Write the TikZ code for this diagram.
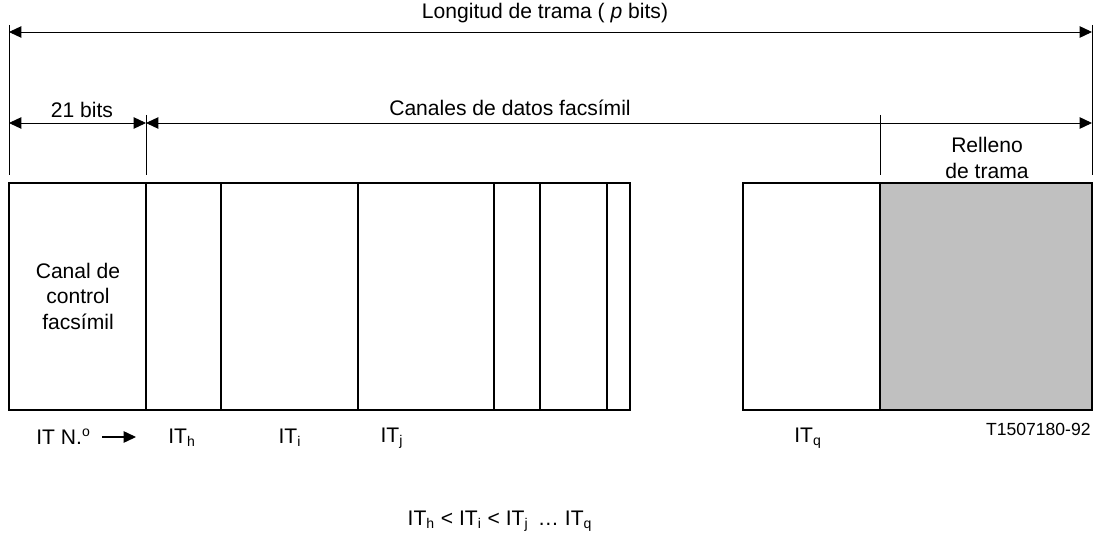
\documentclass[tikz,border=0pt]{standalone}
\usepackage{fontspec}
\setmainfont{Liberation Sans}
\usetikzlibrary{arrows.meta}
\definecolor{relleno}{RGB}{192,192,192}
\tikzset{
  tip/.tip={Triangle[length=7pt,width=6.5pt]},
  dim/.style={line width=0.5pt,tip-tip},
  tick/.style={line width=0.5pt},
  slot/.style={line width=0.7pt},
  lbl/.style={font=\fontsize{12}{14.5}\selectfont,align=center,inner sep=0pt}
}
\begin{document}
\begin{tikzpicture}[x=0.02cm,y=-0.02cm]
\useasboundingbox (0,0) rectangle (1096,537);
% cotas
\coordinate (a0) at (9,25);   \coordinate (a1) at (9,175);
\coordinate (b0) at (1092,25); \coordinate (b1) at (1092,175);
\coordinate (c0) at (146,115); \coordinate (c1) at (146,175);
\coordinate (d0) at (880,115); \coordinate (d1) at (880,175);
\draw[tick] (a0) -- (a1);
\draw[tick] (b0) -- (b1);
\draw[tick] (c0) -- (c1);
\draw[tick] (d0) -- (d1);
\coordinate (t0) at (9,32);   \coordinate (t1) at (1092,32);
\coordinate (m0) at (9,123);  \coordinate (m1) at (146,123); \coordinate (m2) at (1092,123);
\draw[dim] (t0) -- (t1);
\draw[dim] (m0) -- (m1);
\draw[dim] (m1) -- (m2);
\node[lbl] (trama) at (545,13) {Longitud de trama ( \textit{p} bits)};
\node[lbl] (bits) at (82,110) {21 bits};
\node[lbl] (canales) at (510,108) {Canales de datos facsímil};
\node[lbl] (rell) at (987,158) {Relleno\\de trama};
% intervalos
\coordinate (s0) at (9,183);
\coordinate (s1) at (630,410);
\coordinate (q0) at (743,183);
\coordinate (q1) at (1092,410);
\fill[relleno] (880,183) rectangle (q1);
\draw[slot] (s0) rectangle (s1);
\draw[slot] (q0) rectangle (q1);
\foreach \x in {146,221,358,494,540,607,880}
  \draw[slot] (\x,183) -- (\x,410);
\node[lbl] (ctrl) at (78,296) {Canal de\\control\\facsímil};
% etiquetas
\node[lbl,anchor=west] (itno) at (36,437) {IT N.\textsuperscript{o}};
\coordinate (p0) at (102,437); \coordinate (p1) at (136,437);
\draw[line width=0.6pt,-tip] (p0) -- (p1);
\node[lbl] (ith) at (182,438) {IT\textsubscript{h}};
\node[lbl] (iti) at (290,438) {IT\textsubscript{i}};
\node[lbl] (itj) at (392,438) {IT\textsubscript{j}};
\node[lbl] (itq) at (808,438) {IT\textsubscript{q}};
\node[lbl,font=\fontsize{10}{12}\selectfont,anchor=east] (ref) at (1091,429) {T1507180-92};
\node[lbl] (orden) at (500,521) {IT\textsubscript{h} {<} IT\textsubscript{i} {<} IT\textsubscript{j} \,\dots\ IT\textsubscript{q}};
\end{tikzpicture}
\end{document}
